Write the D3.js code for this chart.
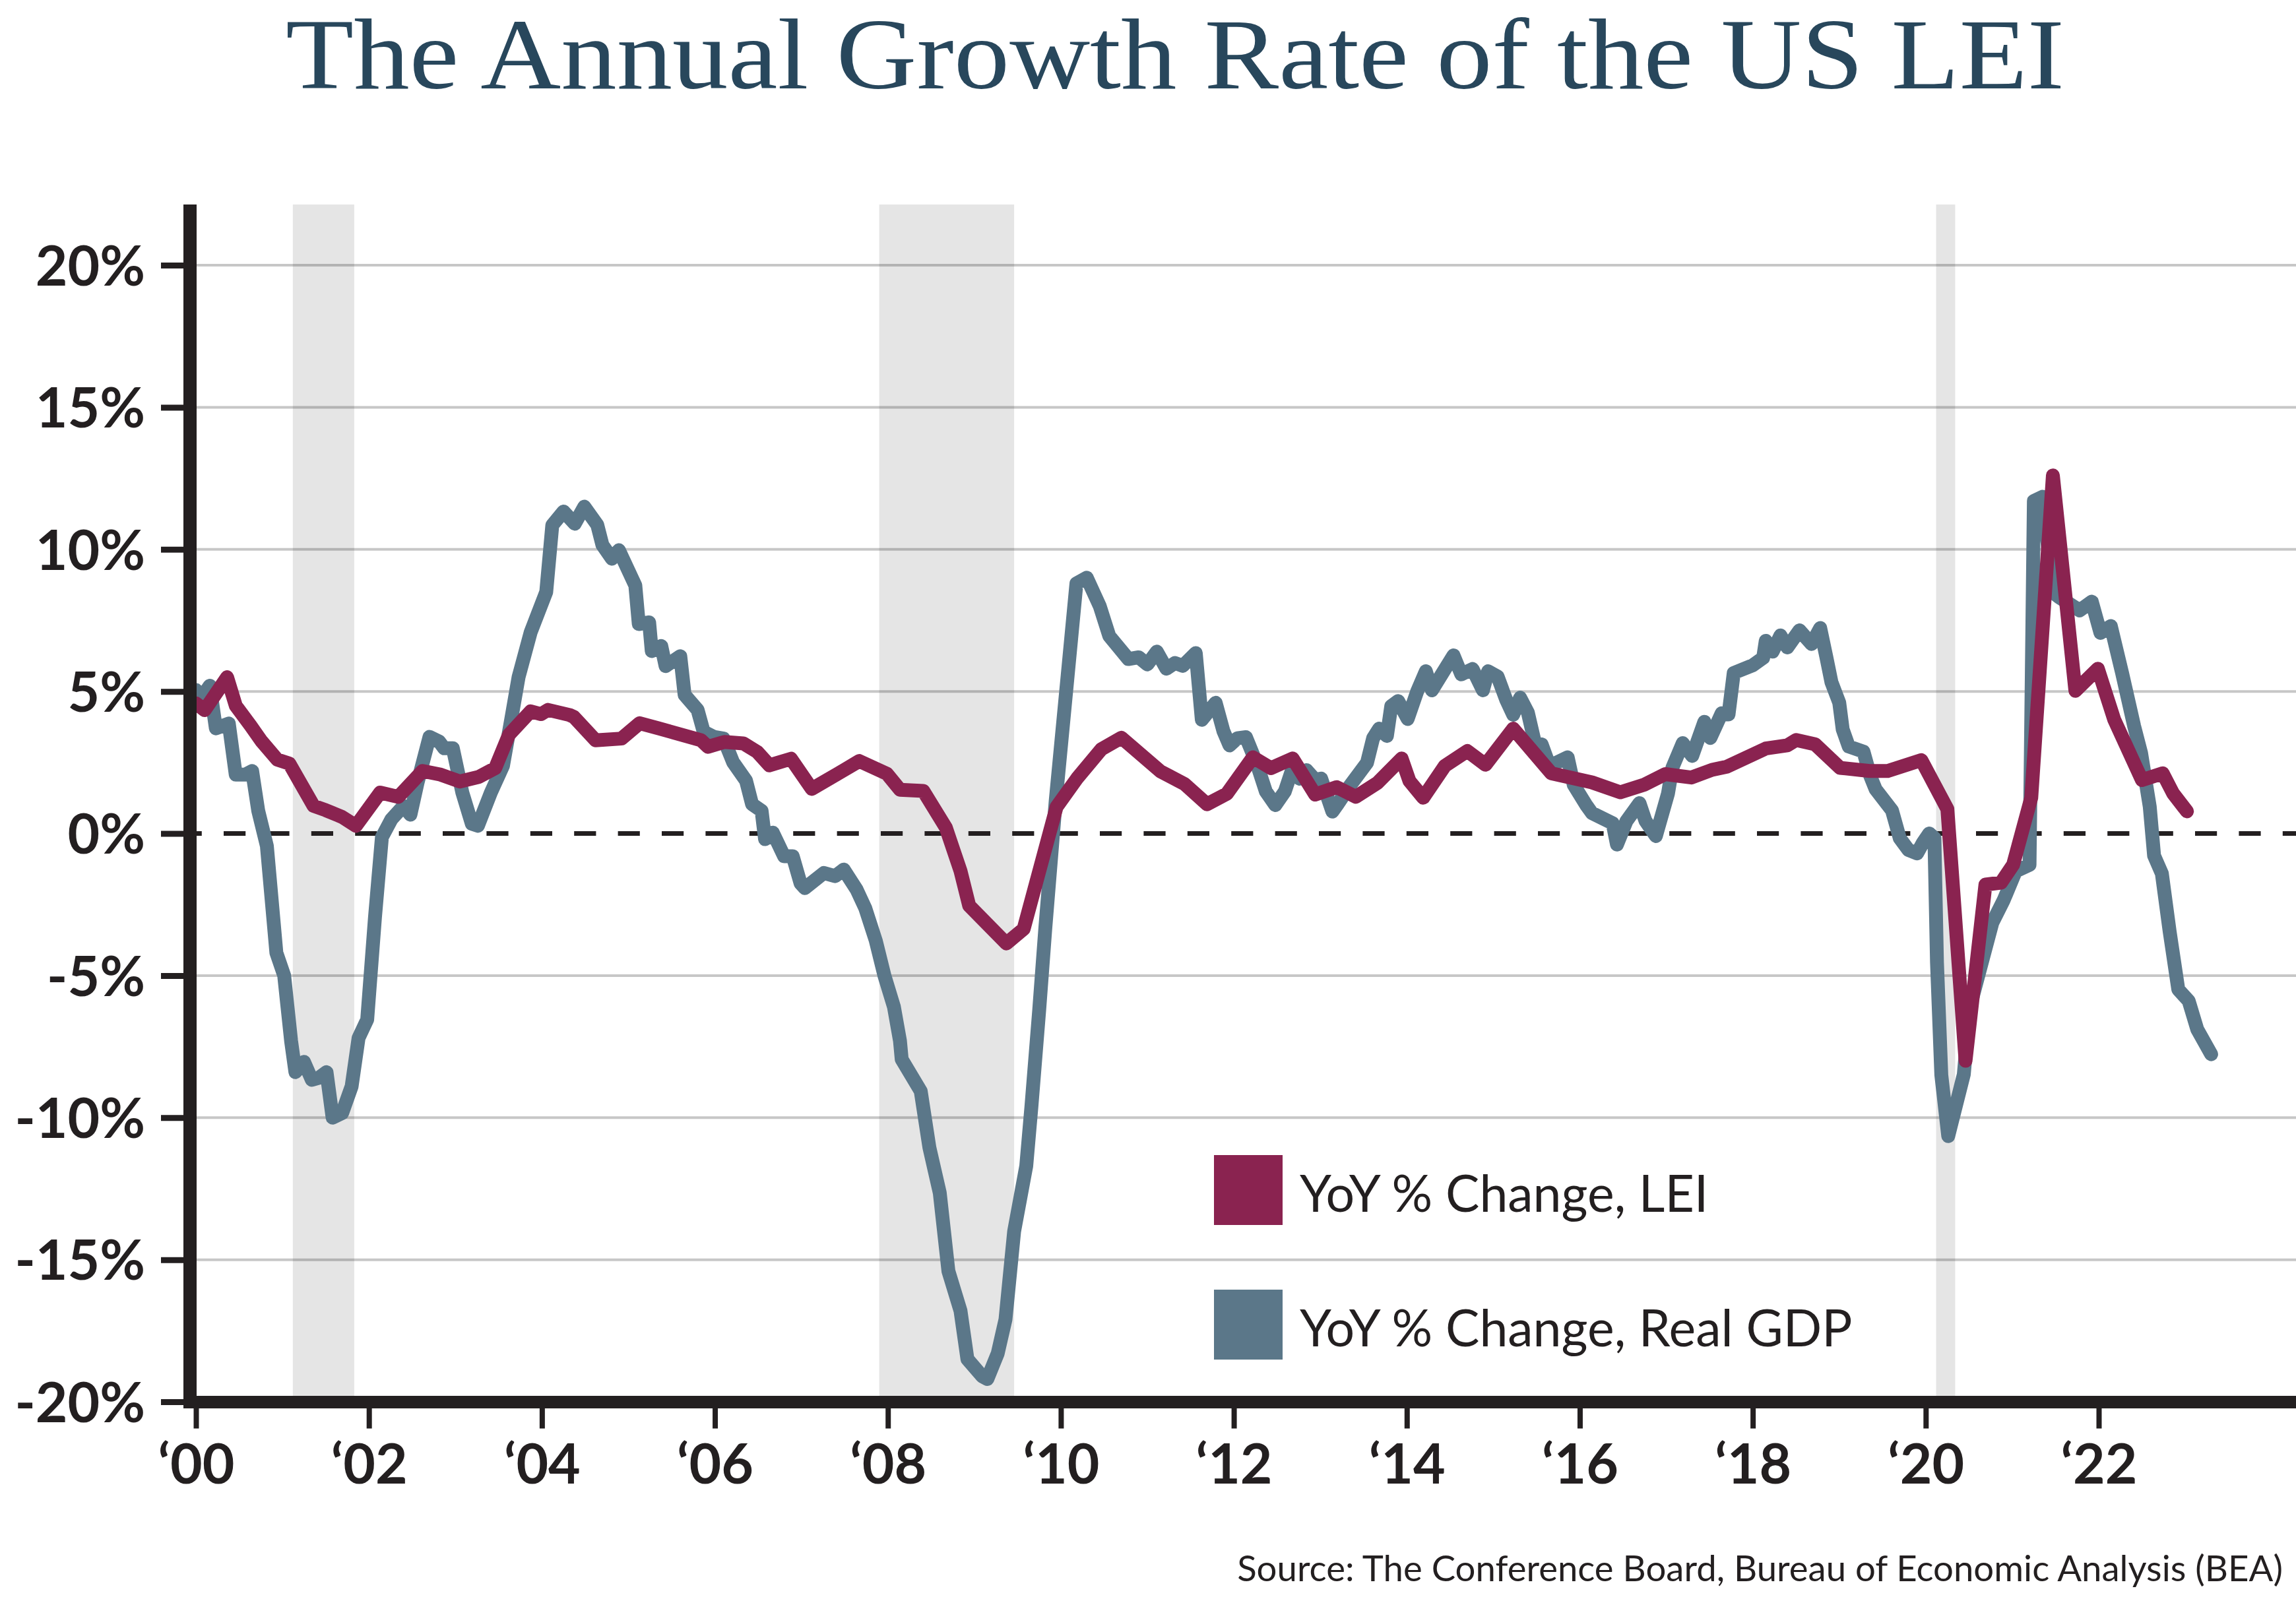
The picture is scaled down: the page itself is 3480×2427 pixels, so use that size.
<!DOCTYPE html>
<html lang="en">
<head>
  <meta charset="UTF-8">
  <title>The Annual Growth Rate of the US LEI</title>
  <style>
    body { margin: 0; background: #fff; }
    svg { display: block; }
    .tick text { font-family: Lato, "Open Sans", sans-serif; font-weight: 700; fill: #231f20; }
  </style>
</head>
<body>
  <svg id="chart"></svg>

  <script src="https://d3js.org/d3.v7.min.js"></script>
  <script>
    // chart values
    const gdpYears = [
      2000.00, 2000.07, 2000.16, 2000.23, 2000.38, 2000.46, 2000.57, 2000.65, 2000.72, 2000.82,
      2000.93, 2001.02, 2001.10, 2001.15, 2001.25, 2001.34, 2001.42, 2001.51, 2001.58, 2001.69,
      2001.80, 2001.88, 2001.98, 2002.07, 2002.15, 2002.26, 2002.40, 2002.48, 2002.56, 2002.70,
      2002.81, 2002.87, 2002.97, 2003.08, 2003.19, 2003.26, 2003.41, 2003.55, 2003.65, 2003.73,
      2003.87, 2004.05, 2004.12, 2004.25, 2004.38, 2004.49, 2004.64, 2004.70, 2004.81, 2004.89,
      2005.08, 2005.12, 2005.24, 2005.27, 2005.38, 2005.43, 2005.60, 2005.65, 2005.80, 2005.87,
      2005.99, 2006.10, 2006.21, 2006.36, 2006.43, 2006.54, 2006.58, 2006.67, 2006.80, 2006.90,
      2006.99, 2007.04, 2007.26, 2007.39, 2007.49, 2007.64, 2007.74, 2007.86, 2007.96, 2008.07,
      2008.14, 2008.16, 2008.38, 2008.48, 2008.60, 2008.70, 2008.84, 2008.92, 2009.09, 2009.15,
      2009.27, 2009.36, 2009.46, 2009.60, 2009.66, 2009.75, 2009.82, 2009.94, 2010.08, 2010.18,
      2010.30, 2010.45, 2010.56, 2010.78, 2010.90, 2011.00, 2011.11, 2011.22, 2011.32, 2011.41,
      2011.56, 2011.63, 2011.79, 2011.88, 2011.95, 2012.04, 2012.14, 2012.22, 2012.29, 2012.37,
      2012.48, 2012.59, 2012.68, 2012.76, 2012.84, 2012.94, 2013.01, 2013.14, 2013.20, 2013.34,
      2013.54, 2013.61, 2013.68, 2013.77, 2013.82, 2013.90, 2014.01, 2014.12, 2014.22, 2014.29,
      2014.54, 2014.63, 2014.76, 2014.88, 2014.94, 2015.05, 2015.15, 2015.23, 2015.31, 2015.40,
      2015.48, 2015.56, 2015.65, 2015.71, 2015.86, 2015.93, 2016.07, 2016.14, 2016.38, 2016.43,
      2016.54, 2016.69, 2016.76, 2016.88, 2017.02, 2017.07, 2017.19, 2017.30, 2017.44, 2017.51,
      2017.64, 2017.72, 2017.78, 2018.00, 2018.12, 2018.15, 2018.23, 2018.32, 2018.40, 2018.54,
      2018.68, 2018.78, 2018.85, 2018.91, 2019.00, 2019.04, 2019.11, 2019.28, 2019.36, 2019.42,
      2019.61, 2019.70, 2019.80, 2019.90, 2019.97, 2020.04, 2020.10, 2020.13, 2020.18, 2020.26,
      2020.44, 2020.51, 2020.66, 2020.77, 2020.90, 2021.04, 2021.20, 2021.25, 2021.35, 2021.47,
      2021.54, 2021.78, 2021.92, 2022.02, 2022.14, 2022.27, 2022.41, 2022.49, 2022.59, 2022.64,
      2022.73, 2022.82, 2022.92, 2023.04, 2023.14, 2023.30
    ];
    const gdpValues = [
      5.05, 4.8, 5.2, 3.7, 3.87, 2.07, 2.07, 2.2, 0.8, -0.44,
      -4.2, -5.0, -7.3, -8.4, -8.04, -8.67, -8.6, -8.4, -10.0, -9.84,
      -8.9, -7.2, -6.55, -2.95, -0.13, 0.5, 0.97, 0.66, 1.76, 3.4,
      3.24, 3.0, 3.0, 1.44, 0.34, 0.27, 1.44, 2.38, 4.1, 5.5,
      7.08, 8.5, 10.85, 11.33, 10.9, 11.5, 10.86, 10.15, 9.67, 9.97,
      8.73, 7.37, 7.43, 6.42, 6.6, 5.89, 6.24, 4.88, 4.35, 3.58,
      3.4, 3.34, 2.51, 1.86, 1.03, 0.8, -0.2, 0.03, -0.8, -0.8,
      -1.75, -1.92, -1.39, -1.5, -1.27, -1.98, -2.64, -3.77, -5.0, -6.1,
      -7.3, -7.95, -9.07, -11.05, -12.65, -15.4, -16.8, -18.5, -19.1, -19.2,
      -18.3, -17.1, -14.0, -11.7, -9.6, -6.2, -3.35, 1.13, 5.6, 8.8,
      9.0, 8.0, 6.95, 6.14, 6.2, 5.95, 6.4, 5.8, 6.0, 5.9,
      6.35, 4.0, 4.6, 3.6, 3.1, 3.35, 3.39, 2.79, 2.23, 1.48,
      1.0, 1.48, 2.3, 1.93, 2.23, 1.89, 1.93, 0.77, 1.03, 1.67,
      2.49, 3.35, 3.69, 3.43, 4.48, 4.66, 4.03, 5.0, 5.71, 5.04,
      6.27, 5.6, 5.79, 5.04, 5.71, 5.52, 4.7, 4.18, 4.78, 4.25,
      3.2, 3.13, 2.38, 2.46, 2.68, 1.71, 1.02, 0.72, 0.36, -0.39,
      0.44, 1.07, 0.44, -0.09, 1.41, 2.31, 3.18, 2.73, 3.93, 3.36,
      4.23, 4.19, 5.65, 5.92, 6.18, 6.78, 6.4, 6.97, 6.55, 7.15,
      6.67, 7.23, 6.22, 5.32, 4.6, 3.66, 3.06, 2.88, 2.01, 1.56,
      0.81, -0.17, -0.58, -0.7, -0.31, 0.0, -0.16, -4.55, -8.5, -10.65,
      -8.48, -6.12, -4.4, -3.14, -2.35, -1.33, -1.1, 11.7, 11.85, 8.48,
      8.32, 7.85, 8.16, 7.06, 7.3, 5.65, 3.77, 2.83, 0.94, -0.78,
      -1.41, -3.45, -5.49, -5.89, -6.9, -7.77
    ];

    const leiYears = [
      2000.00, 2000.10, 2000.36, 2000.46, 2000.63, 2000.76, 2000.94, 2001.08, 2001.36, 2001.50,
      2001.69, 2001.85, 2002.13, 2002.34, 2002.62, 2002.83, 2003.05, 2003.27, 2003.46, 2003.62,
      2003.87, 2003.99, 2004.07, 2004.32, 2004.37, 2004.62, 2004.92, 2005.13, 2005.35, 2005.84,
      2005.92, 2006.11, 2006.33, 2006.49, 2006.63, 2006.88, 2007.12, 2007.42, 2007.67, 2007.99,
      2008.14, 2008.41, 2008.67, 2008.84, 2008.94, 2009.37, 2009.57, 2009.95, 2010.19, 2010.47,
      2010.70, 2011.15, 2011.43, 2011.69, 2011.92, 2012.22, 2012.43, 2012.68, 2012.94, 2013.19,
      2013.41, 2013.66, 2013.94, 2014.03, 2014.19, 2014.44, 2014.70, 2014.91, 2015.23, 2015.67,
      2016.14, 2016.47, 2016.74, 2016.99, 2017.29, 2017.53, 2017.70, 2018.15, 2018.40, 2018.50,
      2018.72, 2019.01, 2019.35, 2019.56, 2019.95, 2020.25, 2020.46, 2020.69, 2020.87, 2021.01,
      2021.22, 2021.47, 2021.73, 2021.99, 2022.18, 2022.50, 2022.74, 2022.86, 2023.02
    ];
    const leiValues = [
      4.58, 4.34, 5.5, 4.5, 3.8, 3.24, 2.6, 2.46, 0.97, 0.82,
      0.58, 0.27, 1.44, 1.29, 2.2, 2.07, 1.83, 1.99, 2.3, 3.48,
      4.3, 4.2, 4.35, 4.17, 4.1, 3.28, 3.34, 3.88, 3.7, 3.28,
      3.05, 3.22, 3.17, 2.87, 2.4, 2.63, 1.57, 2.1, 2.55, 2.1,
      1.54, 1.5, 0.21, -1.32, -2.54, -3.87, -3.36, 0.93, 1.95, 2.97,
      3.37, 2.19, 1.74, 1.03, 1.4, 2.68, 2.3, 2.64, 1.37, 1.63,
      1.29, 1.78, 2.64, 1.85, 1.26, 2.38, 2.9, 2.42, 3.69, 2.12,
      1.8, 1.45, 1.71, 2.09, 1.97, 2.24, 2.35, 2.99, 3.1, 3.29,
      3.14, 2.31, 2.2, 2.2, 2.58, 0.86, -8.0, -1.8, -1.73, -1.1,
      1.26, 12.6, 5.02, 5.8, 4.0, 1.88, 2.12, 1.41, 0.78
    ];

    const recessionStart = [2001.12, 2007.90, 2020.12];
    const recessionEnd = [2001.83, 2009.46, 2020.34];

    const yTicks = [-20, -15, -10, -5, 0, 5, 10, 15, 20];
    const yTickLabels = ["-20%", "-15%", "-10%", "-5%", "0%", "5%", "10%", "15%", "20%"];
    const xTicks = [2000, 2002, 2004, 2006, 2008, 2010, 2012, 2014, 2016, 2018, 2020, 2022];
    const xTickLabels = ["\u201800", "\u201802", "\u201804", "\u201806", "\u201808", "\u201810",
                         "\u201812", "\u201814", "\u201816", "\u201818", "\u201820", "\u201822"];

    const seriesNames = ["YoY % Change, LEI", "YoY % Change, Real GDP"];
    const seriesColors = ["#8a2350", "#5b7789"];

    const W = 3480, H = 2427;
    const ink = "#231f20";
    const plotLeft = 288, plotRight = W, plotTop = 310, plotBottom = 2125.5;

    const svg = d3.select("#chart")
      .attr("width", W)
      .attr("height", H);

    const x = d3.scaleLinear()
      .domain([2000, 2022])
      .range([297, 3181]);

    const y = d3.scaleLinear()
      .domain([-20, 20])
      .range([2125, 402]);

    // title
    svg.append("text")
      .attr("x", 433)
      .attr("y", 134)
      .attr("textLength", 2696)
      .attr("lengthAdjust", "spacingAndGlyphs")
      .style("font-family", "'Liberation Serif', 'DejaVu Serif', serif")
      .style("font-size", "152px")
      .style("fill", "#28475c")
      .text("The Annual Growth Rate of the US LEI");

    // recession shading
    svg.selectAll(".recession")
      .data(recessionStart)
      .enter()
      .append("rect")
      .attr("class", "recession")
      .attr("x", d => x(d))
      .attr("y", plotTop)
      .attr("width", (d, i) => x(recessionEnd[i]) - x(d))
      .attr("height", plotBottom - plotTop)
      .attr("fill", "#e5e5e5");

    // gridlines
    svg.selectAll(".grid")
      .data(yTicks.filter(d => d !== 0 && d !== -20))
      .enter()
      .append("line")
      .attr("class", "grid")
      .attr("x1", plotLeft + 10)
      .attr("x2", plotRight)
      .attr("y1", d => y(d))
      .attr("y2", d => y(d))
      .attr("stroke", "rgba(0,0,0,0.22)")
      .attr("stroke-width", 4);

    // zero line
    svg.append("line")
      .attr("x1", plotLeft + 10)
      .attr("x2", plotRight)
      .attr("y1", y(0))
      .attr("y2", y(0))
      .attr("stroke", ink)
      .attr("stroke-width", 7)
      .attr("stroke-dasharray", "33.2,33.2")
      .attr("stroke-dashoffset", 25.4);

    // lines
    const line = d3.line()
      .x(d => x(d[0]))
      .y(d => y(d[1]));

    const gdp = gdpYears.map((d, i) => [d, gdpValues[i]]);
    const lei = leiYears.map((d, i) => [d, leiValues[i]]);

    [gdp, lei].forEach((s, k) => {
      svg.append("path")
        .datum(s)
        .attr("d", line)
        .attr("fill", "none")
        .attr("stroke", k === 0 ? seriesColors[1] : seriesColors[0])
        .attr("stroke-width", 21)
        .attr("stroke-linejoin", "round")
        .attr("stroke-linecap", "round");
    });

    // y axis
    const yAxis = svg.append("g")
      .attr("transform", `translate(${plotLeft},0)`)
      .call(d3.axisLeft(y)
        .tickValues(yTicks)
        .tickFormat((d, i) => yTickLabels[i])
        .tickSize(44)
        .tickPadding(24)
        .tickSizeOuter(0));
    yAxis.select(".domain").remove();
    yAxis.selectAll(".tick line").attr("stroke", ink).attr("stroke-width", 9);
    yAxis.selectAll(".tick text").style("font-size", "84px").attr("dy", "0.36em");

    // x axis
    const xAxis = svg.append("g")
      .attr("transform", `translate(0,${plotBottom})`)
      .call(d3.axisBottom(x)
        .tickValues(xTicks)
        .tickFormat((d, i) => xTickLabels[i])
        .tickSize(40)
        .tickSizeOuter(0));
    xAxis.select(".domain").remove();
    xAxis.selectAll(".tick line").attr("stroke", ink).attr("stroke-width", 8);
    xAxis.selectAll(".tick text")
      .style("font-size", "84px")
      .attr("y", 123)
      .attr("dy", 0);

    // axis lines
    svg.append("line")
      .attr("x1", plotLeft).attr("x2", plotLeft)
      .attr("y1", plotTop).attr("y2", plotBottom)
      .attr("stroke", ink).attr("stroke-width", 20);
    svg.append("line")
      .attr("x1", plotLeft - 10).attr("x2", plotRight)
      .attr("y1", plotBottom).attr("y2", plotBottom)
      .attr("stroke", ink).attr("stroke-width", 19);

    // legend
    const legend = svg.append("g").attr("transform", "translate(1840,1751)");
    seriesNames.forEach((name, i) => {
      legend.append("rect")
        .attr("x", 0)
        .attr("y", i * 204)
        .attr("width", 104)
        .attr("height", 106)
        .attr("fill", seriesColors[i]);
      legend.append("text")
        .attr("x", 130)
        .attr("y", i * 204 + 86)
        .style("font-family", "Lato, 'Open Sans', sans-serif")
        .style("font-size", "77px")
        .style("fill", ink)
        .text(name);
    });

    // source
    svg.append("text")
      .attr("x", 3460)
      .attr("y", 2397)
      .attr("text-anchor", "end")
      .style("font-family", "Lato, 'Open Sans', sans-serif")
      .style("font-size", "54.5px")
      .style("fill", ink)
      .text("Source: The Conference Board, Bureau of Economic Analysis (BEA)");
  </script>
</body>
</html>
